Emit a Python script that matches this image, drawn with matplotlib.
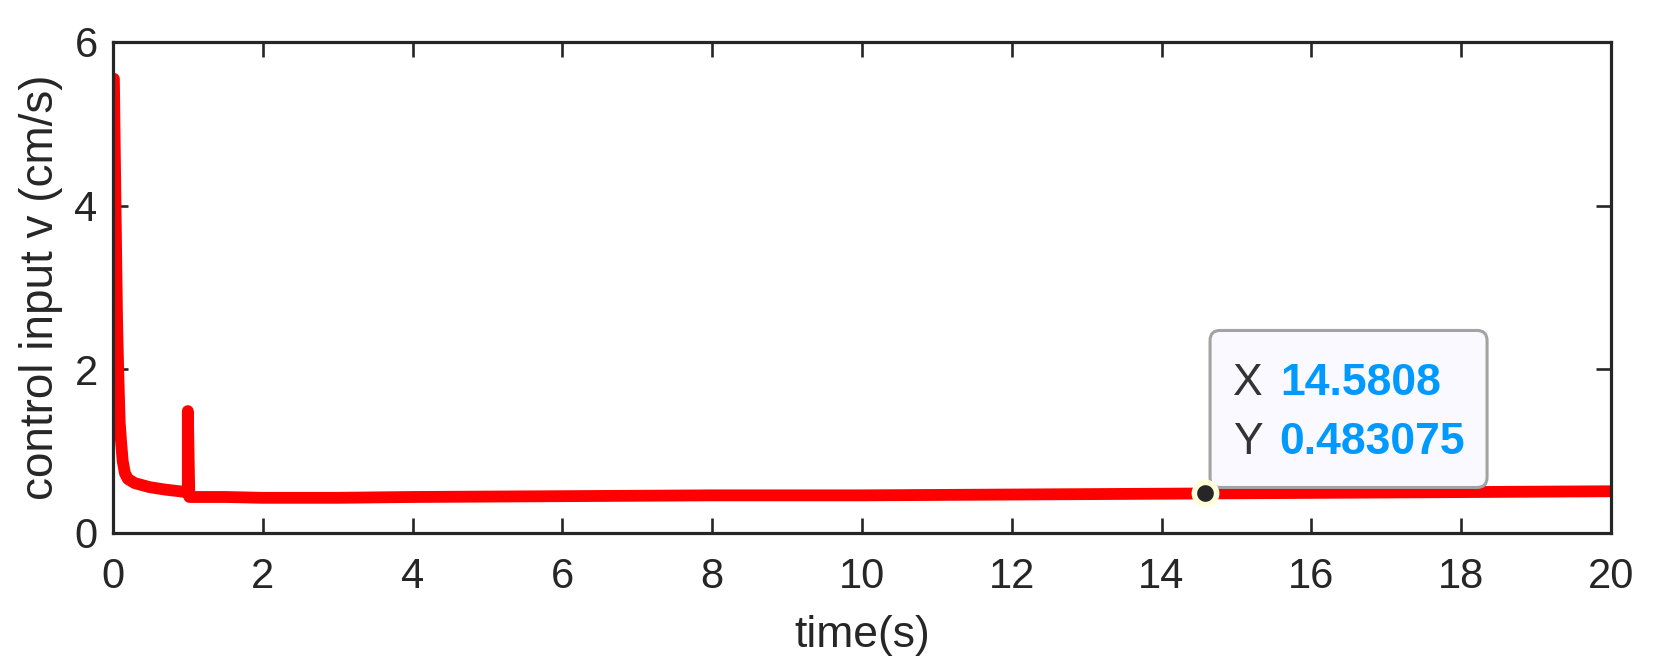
import matplotlib.pyplot as plt
from matplotlib.patches import FancyBboxPatch
from matplotlib.transforms import ScaledTranslation

# data
t = [0.013, 0.02, 0.04, 0.055, 0.07, 0.09, 0.11, 0.13, 0.16, 0.2, 0.29, 0.49, 0.7, 0.98,
     1.0, 1.0, 1.02, 1.5, 2, 3, 4, 6, 8, 10, 12, 14, 14.5808, 16, 18, 20]
v = [5.55, 5.0, 3.6, 2.6, 2.0, 1.35, 1.1, 0.88, 0.73, 0.66, 0.61, 0.56, 0.53, 0.5,
     0.5, 1.49, 0.44, 0.44, 0.43, 0.43, 0.44, 0.45, 0.46, 0.46, 0.47, 0.48, 0.483075, 0.49, 0.5, 0.51]

tip_x = 14.5808
tip_y = 0.483075

x_ticks = [0, 2, 4, 6, 8, 10, 12, 14, 16, 18, 20]
y_ticks = [0, 2, 4, 6]

plt.rcParams['font.family'] = ['Liberation Sans', 'DejaVu Sans']

fig = plt.figure(figsize=(16.56, 6.66), dpi=100)
ax = fig.add_axes([0.0682, 0.1997, 0.9046, 0.7373])

ax.plot(t, v, color='#ff0000', linewidth=8.5, solid_capstyle='round',
        solid_joinstyle='round')

ax.set_xlim(0, 20)
ax.set_ylim(0, 6)
ax.set_xticks(x_ticks)
ax.set_yticks(y_ticks)

dark = '#262626'
for s in ax.spines.values():
    s.set_linewidth(2.3)
    s.set_color(dark)
ax.tick_params(direction='in', length=11, width=1.9, colors=dark,
               labelsize=30, top=True, right=True)
ax.tick_params(axis='x', pad=17)
ax.tick_params(axis='y', pad=11)

ax.set_xlabel('time(s)', fontsize=32, color=dark, labelpad=13)
ax.set_ylabel('control input v (cm/s)', fontsize=33, color=dark, labelpad=8)

# datatip, laid out in inches from the marked point
tr = fig.dpi_scale_trans + ScaledTranslation(tip_x, tip_y, ax.transData)
box = FancyBboxPatch((0.05, 0.06), 2.77, 1.57, transform=tr,
                     boxstyle='round,pad=0,rounding_size=0.1',
                     facecolor='#f9f9ff', edgecolor='#a3a3a3', linewidth=2.2,
                     zorder=5, clip_on=False)
ax.add_patch(box)
ax.text(0.28, 0.98, 'X', transform=tr, fontsize=32, color='#333333',
        va='baseline', zorder=6)
ax.text(0.75, 0.98, '14.5808', transform=tr, fontsize=32, color='#0099ff',
        fontweight='bold', va='baseline', zorder=6)
ax.text(0.28, 0.39, 'Y', transform=tr, fontsize=32, color='#333333',
        va='baseline', zorder=6)
ax.text(0.74, 0.39, '0.483075', transform=tr, fontsize=32, color='#0099ff',
        fontweight='bold', va='baseline', zorder=6)

ax.plot([tip_x], [tip_y], marker='o', markersize=16, color='#262626',
        markeredgecolor='#ffffdc', markeredgewidth=4, zorder=7, clip_on=False)

fig.savefig('out.png', dpi=100)
